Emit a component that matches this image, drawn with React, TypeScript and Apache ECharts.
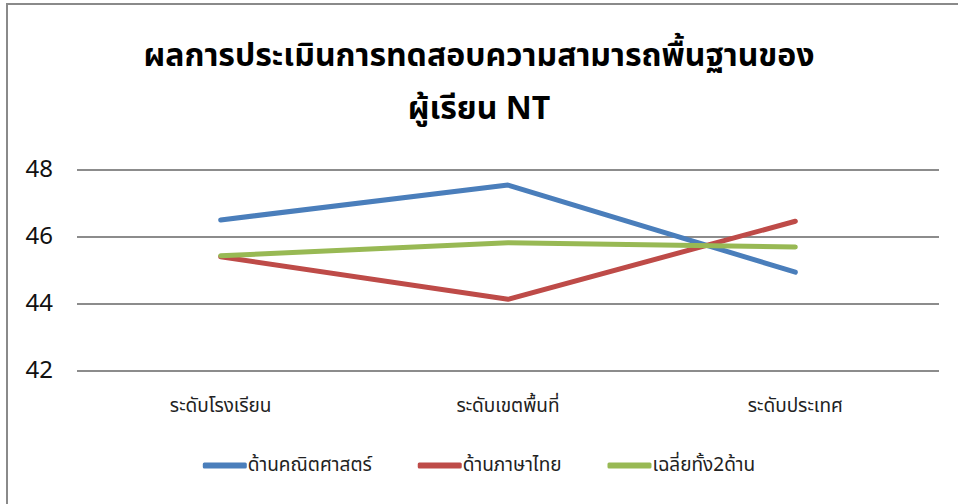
import React, { useEffect, useRef } from "react";
import * as echarts from "echarts";

const categories = ["ระดับโรงเรียน", "ระดับเขตพื้นที่", "ระดับประเทศ"];
const mathValues = [46.51, 47.55, 44.95];
const thaiValues = [45.41, 44.14, 46.47];
const avgValues = [45.44, 45.83, 45.7];
const seriesNames = ["ด้านคณิตศาสตร์", "ด้านภาษาไทย", "เฉลี่ยทั้ง2ด้าน"];
const colors = ["#4a7ebb", "#be4b48", "#98b954"];
const titleText = "ผลการประเมินการทดสอบความสามารถพื้นฐานของ\nผู้เรียน NT";

const FONT = "'Noto Sans Thai', 'Noto Sans', sans-serif";

export default function App() {
  const ref = useRef<HTMLDivElement>(null);
  useEffect(() => {
    if (!ref.current) return;
    const chart = echarts.init(ref.current, undefined, { renderer: "svg" });
    const data = [mathValues, thaiValues, avgValues];
    chart.setOption({
      animation: false,
      backgroundColor: "#ffffff",
      title: {
        text: titleText,
        left: "center",
        top: 24,
        textStyle: {
          fontFamily: FONT,
          fontSize: 32,
          fontWeight: "bold",
          color: "#000000",
          lineHeight: 53,
        },
      },
      graphic: [
        {
          type: "rect",
          shape: { x: 7, y: 4, width: 1000, height: 600 },
          style: { fill: "none", stroke: "#8a8a8a", lineWidth: 2 },
          silent: true,
        },
      ],
      legend: {
        data: seriesNames,
        bottom: 24,
        left: "center",
        itemWidth: 44,
        itemHeight: 6,
        itemGap: 46,
        icon: "roundRect",
        textStyle: { fontFamily: FONT, fontSize: 19, color: "#222222", padding: [0, 0, 0, -4] },
      },
      grid: { left: 77, right: 19, top: 170, bottom: 133 },
      xAxis: {
        type: "category",
        data: categories,
        boundaryGap: true,
        axisLine: { show: false },
        axisTick: { show: false },
        axisLabel: { fontFamily: FONT, fontSize: 19, color: "#222222", margin: 26 },
      },
      yAxis: {
        type: "value",
        min: 42,
        max: 48,
        interval: 2,
        axisLine: { show: false },
        axisTick: { show: false },
        axisLabel: { fontFamily: FONT, fontSize: 24, color: "#111111", margin: 24 },
        splitLine: { lineStyle: { color: "#8c8c8c", width: 2 } },
      },
      series: seriesNames.map((name, i) => ({
        name,
        type: "line",
        data: data[i],
        symbol: "none",
        color: colors[i],
        lineStyle: { width: 5, color: colors[i], cap: "round" },
      })),
    });
    return () => chart.dispose();
  }, []);
  return (
    <div
      ref={ref}
      style={{ position: "absolute", left: 0, top: 0, width: 958, height: 504 }}
    />
  );
}
